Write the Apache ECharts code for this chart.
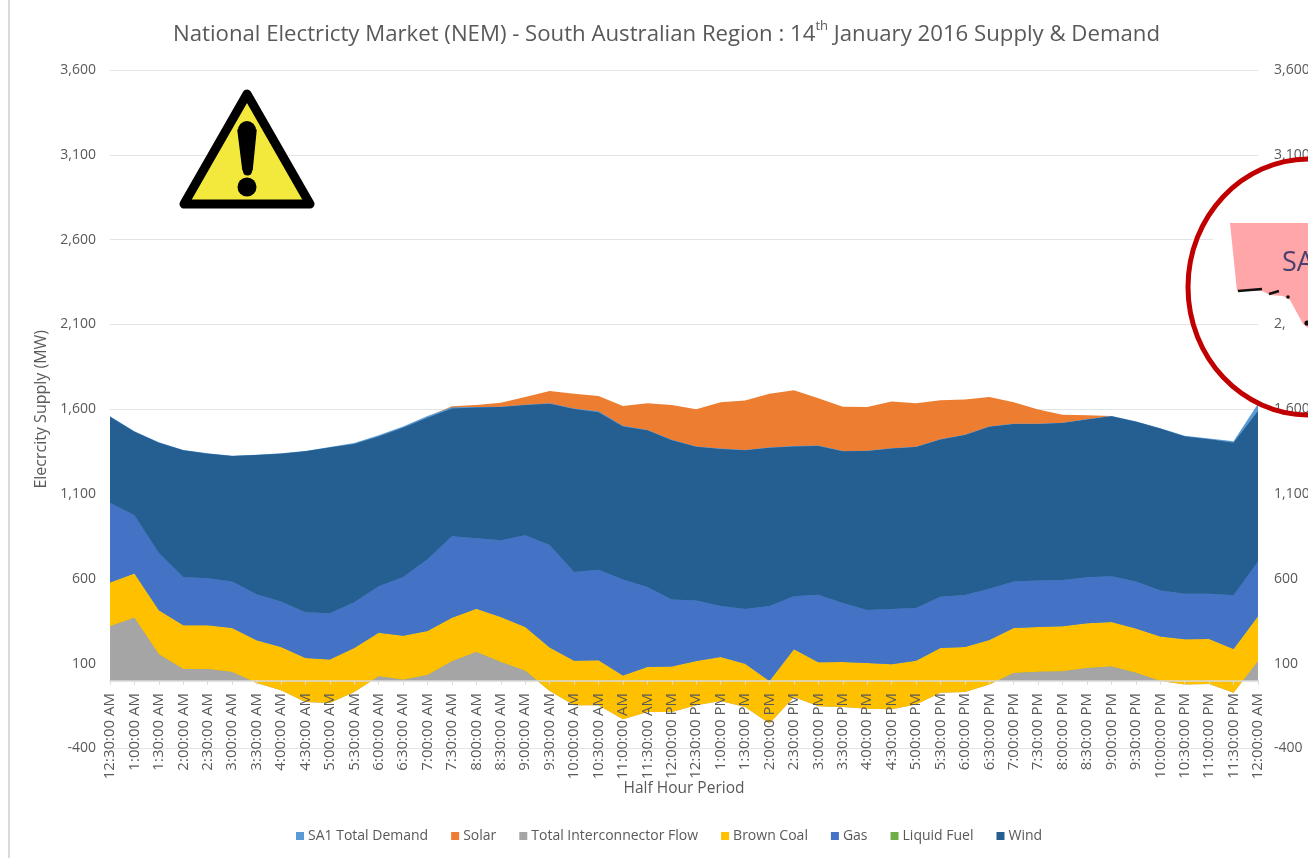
<!DOCTYPE html>
<html>
<head>
<meta charset="utf-8">
<style>html,body{margin:0;padding:0;background:#fff}#c{width:1308px;height:858px}</style>
<script src="https://cdn.jsdelivr.net/npm/echarts@6/dist/echarts.min.js"></script>
</head>
<body>
<div id="c"></div>
<script>
const categories = ['12:30:00 AM','1:00:00 AM','1:30:00 AM','2:00:00 AM','2:30:00 AM','3:00:00 AM','3:30:00 AM','4:00:00 AM','4:30:00 AM','5:00:00 AM','5:30:00 AM','6:00:00 AM','6:30:00 AM','7:00:00 AM','7:30:00 AM','8:00:00 AM','8:30:00 AM','9:00:00 AM','9:30:00 AM','10:00:00 AM','10:30:00 AM','11:00:00 AM','11:30:00 AM','12:00:00 PM','12:30:00 PM','1:00:00 PM','1:30:00 PM','2:00:00 PM','2:30:00 PM','3:00:00 PM','3:30:00 PM','4:00:00 PM','4:30:00 PM','5:00:00 PM','5:30:00 PM','6:00:00 PM','6:30:00 PM','7:00:00 PM','7:30:00 PM','8:00:00 PM','8:30:00 PM','9:00:00 PM','9:30:00 PM','10:00:00 PM','10:30:00 PM','11:00:00 PM','11:30:00 PM','12:00:00 AM'];
const demand = [1558,1470,1405,1360,1340,1326,1332,1340,1354,1378,1401,1446,1498,1560,1612,1613,1615,1627,1635,1605,1588,1503,1478,1420,1381,1368,1360,1375,1383,1386,1354,1356,1370,1379,1423,1450,1499,1515,1515,1521,1541,1560,1529,1488,1444,1427,1411,1633];
const interconnector = [320,371,155,69,69,51,-14,-57,-126,-132,-67,26,6,33,114,169,110,59,-61,-145,-145,-228,-185,-185,-145,-120,-155,-253,-96,-151,-155,-165,-169,-140,-71,-67,-22,45,53,55,75,83,47,-2,-22,-20,-71,114];
const brownCoal = [258,260,260,257,257,259,252,255,260,256,260,257,259,260,257,255,265,257,256,263,265,259,266,269,261,260,255,251,281,259,265,269,265,258,264,265,262,265,263,265,263,263,261,263,266,266,258,265];
const gas = [471,344,338,285,277,274,271,268,269,273,269,273,346,422,480,415,452,541,605,523,534,566,471,394,356,300,322,442,312,399,348,313,326,310,302,307,302,274,274,273,271,269,276,270,269,267,316,324];
const liquidFuel = categories.map(() => 0);
const wind = [507,493,650,747,735,740,821,872,949,978,933,884,880,835,754,772,786,768,833,960,928,902,924,939,907,926,936,933,884,876,894,937,946,949,926,943,955,929,923,926,930,943,943,955,927,910,900,887];
const solar = [0,0,0,0,0,0,0,0,0,0,0,0,0,6,12,14,26,47,75,91,96,120,159,208,221,275,293,319,331,282,263,259,277,258,232,209,175,128,85,49,25,2,0,0,0,0,0,0];
const yTicks = [-400,100,600,1100,1600,2100,2600,3100,3600];
const legendOrder = ['SA1 Total Demand','Solar','Total Interconnector Flow','Brown Coal','Gas','Liquid Fuel','Wind'];
const titleA = 'National Electricty Market (NEM) - South Australian Region : 14';
const titleB = 'th';
const titleC = ' January 2016 Supply & Demand';

const font = '"Open Sans", sans-serif';
const grey = '#595959';

function area(name, data, color, z, stacked) {
  const s = {
    name, type: 'line', data, z, symbol: 'none', showSymbol: false, smooth: false,
    lineStyle: { width: 0, color }, itemStyle: { color },
    areaStyle: { color, opacity: 1 }, silent: true
  };
  if (stacked) { s.stack = 'supply'; s.stackStrategy = 'all'; }
  return s;
}

const chart = echarts.init(document.getElementById('c'), null, { renderer: 'canvas' });
chart.setOption({
  animation: false,
  backgroundColor: '#fff',
  title: {
    left: 173, top: 20, padding: 0,
    text: '{a|' + titleA + '}{s|' + titleB + '}{a|' + titleC + '}',
    textStyle: {
      fontWeight: 'normal',
      rich: {
        a: { fontFamily: font, fontSize: 22.2, fontWeight: 'normal', color: grey, lineHeight: 30 },
        s: { fontFamily: font, fontSize: 13, fontWeight: 'normal', color: grey, verticalAlign: 'top', lineHeight: 30 }
      }
    }
  },
  legend: {
    data: legendOrder, left: 296, top: 829, padding: 0, itemWidth: 8, itemHeight: 8, itemGap: 23,
    icon: 'rect', selectedMode: false,
    textStyle: { fontFamily: font, fontSize: 14, color: grey, padding: [0, 0, 0, -1] }
  },
  grid: { left: 110, right: 50, top: 70, bottom: 109.5, containLabel: false, outerBoundsMode: 'none' },
  xAxis: {
    type: 'category', data: categories, boundaryGap: false, z: 10,
    name: 'Half Hour Period', nameLocation: 'middle', nameGap: 32, nameMoveOverlap: false,
    nameTextStyle: { fontFamily: font, fontSize: 15.5, color: grey },
    axisLine: { onZero: true, lineStyle: { color: '#D9D9D9', width: 1.5 } },
    axisTick: { show: true, length: 4, alignWithLabel: true, lineStyle: { color: '#D9D9D9' } },
    axisLabel: { interval: 0, rotate: 90, margin: -55.5, fontFamily: font, fontSize: 15, color: grey, hideOverlap: false },
    splitLine: { show: false }
  },
  yAxis: [{
    type: 'value', min: -400, max: 3600, position: 'left',
    name: 'Elecrcity Supply (MW)', nameLocation: 'middle', nameGap: 54,
    nameTextStyle: { fontFamily: font, fontSize: 16, color: grey },
    axisLine: { show: false },
    axisTick: { show: false, customValues: yTicks },
    axisLabel: { customValues: yTicks, margin: 14, fontFamily: font, fontSize: 14, color: grey },
    splitLine: { show: true, lineStyle: { color: '#E4E4E4', width: 1.2 } }
  }, {
    type: 'value', min: -400, max: 3600, position: 'right',
    axisLine: { show: false },
    axisTick: { show: false, customValues: yTicks },
    axisLabel: { customValues: yTicks, margin: 16, fontFamily: font, fontSize: 14, color: grey },
    splitLine: { show: false }
  }],
  series: [
    area('SA1 Total Demand', demand, '#5B9BD5', 3, false),
    area('Total Interconnector Flow', interconnector, '#A5A5A5', 4, true),
    area('Brown Coal', brownCoal, '#FFC000', 4, true),
    area('Gas', gas, '#4472C4', 4, true),
    area('Liquid Fuel', liquidFuel, '#70AD47', 4, true),
    area('Wind', wind, '#255E91', 4, true),
    area('Solar', solar, '#ED7D31', 2, true)
  ],
  graphic: [
    { type: 'line', z: 1, silent: true, shape: { x1: 9, y1: 0, x2: 9, y2: 858 },
      style: { stroke: '#D9D9D9', lineWidth: 2 } },
    // warning sign
    { type: 'polygon', z: 100, silent: true, shape: { points: [[247,94],[184,204],[310,204]] },
      style: { fill: '#F3E83C', stroke: '#000', lineWidth: 9, lineJoin: 'round' } },
    { type: 'polygon', z: 101, silent: true, shape: { points: [[238,130],[256,130],[252,170],[243,170]] },
      style: { fill: '#000', stroke: '#000', lineWidth: 1.5, lineJoin: 'round' } },
    { type: 'circle', z: 101, silent: true, shape: { cx: 247, cy: 130, r: 9 }, style: { fill: '#000' } },
    { type: 'circle', z: 101, silent: true, shape: { cx: 247.5, cy: 171, r: 4.6 }, style: { fill: '#000' } },
    { type: 'circle', z: 101, silent: true, shape: { cx: 247, cy: 187, r: 9.5 }, style: { fill: '#000' } },
    // South Australia map picture
    { type: 'polygon', z: 100, silent: true,
      shape: { points: [[1213,216],[1308,216],[1308,334],[1287,334],[1287,312],[1262,300],[1222,298],[1213,270]] },
      style: { fill: '#fff' } },
    { type: 'polygon', z: 101, silent: true,
      shape: { points: [[1230,223],[1308,223],[1308,328],[1303,324],[1290,300],[1283,296],[1270,295],[1262,291],[1237,291]] },
      style: { fill: '#FFA6A9' } },
    { type: 'polyline', z: 102, silent: true, shape: { points: [[1238,291],[1262,289]] },
      style: { fill: 'none', stroke: '#111', lineWidth: 2.5 } },
    { type: 'polyline', z: 102, silent: true, shape: { points: [[1269,294],[1279,291]] },
      style: { fill: 'none', stroke: '#111', lineWidth: 2.5 } },
    { type: 'circle', z: 102, silent: true, shape: { cx: 1288, cy: 297, r: 1.8 }, style: { fill: '#111' } },
    { type: 'circle', z: 102, silent: true, shape: { cx: 1307, cy: 323, r: 2.6 }, style: { fill: '#111' } },
    { type: 'text', z: 102, silent: true, style: { x: 1282, y: 250, text: 'SA', fill: '#4B3F6E', fontFamily: font, fontSize: 27 } },
    { type: 'ellipse', z: 103, silent: true, shape: { cx: 1309, cy: 287, rx: 121, ry: 128 },
      style: { fill: 'none', stroke: '#C00000', lineWidth: 5 } }
  ]
});
</script>
</body>
</html>
